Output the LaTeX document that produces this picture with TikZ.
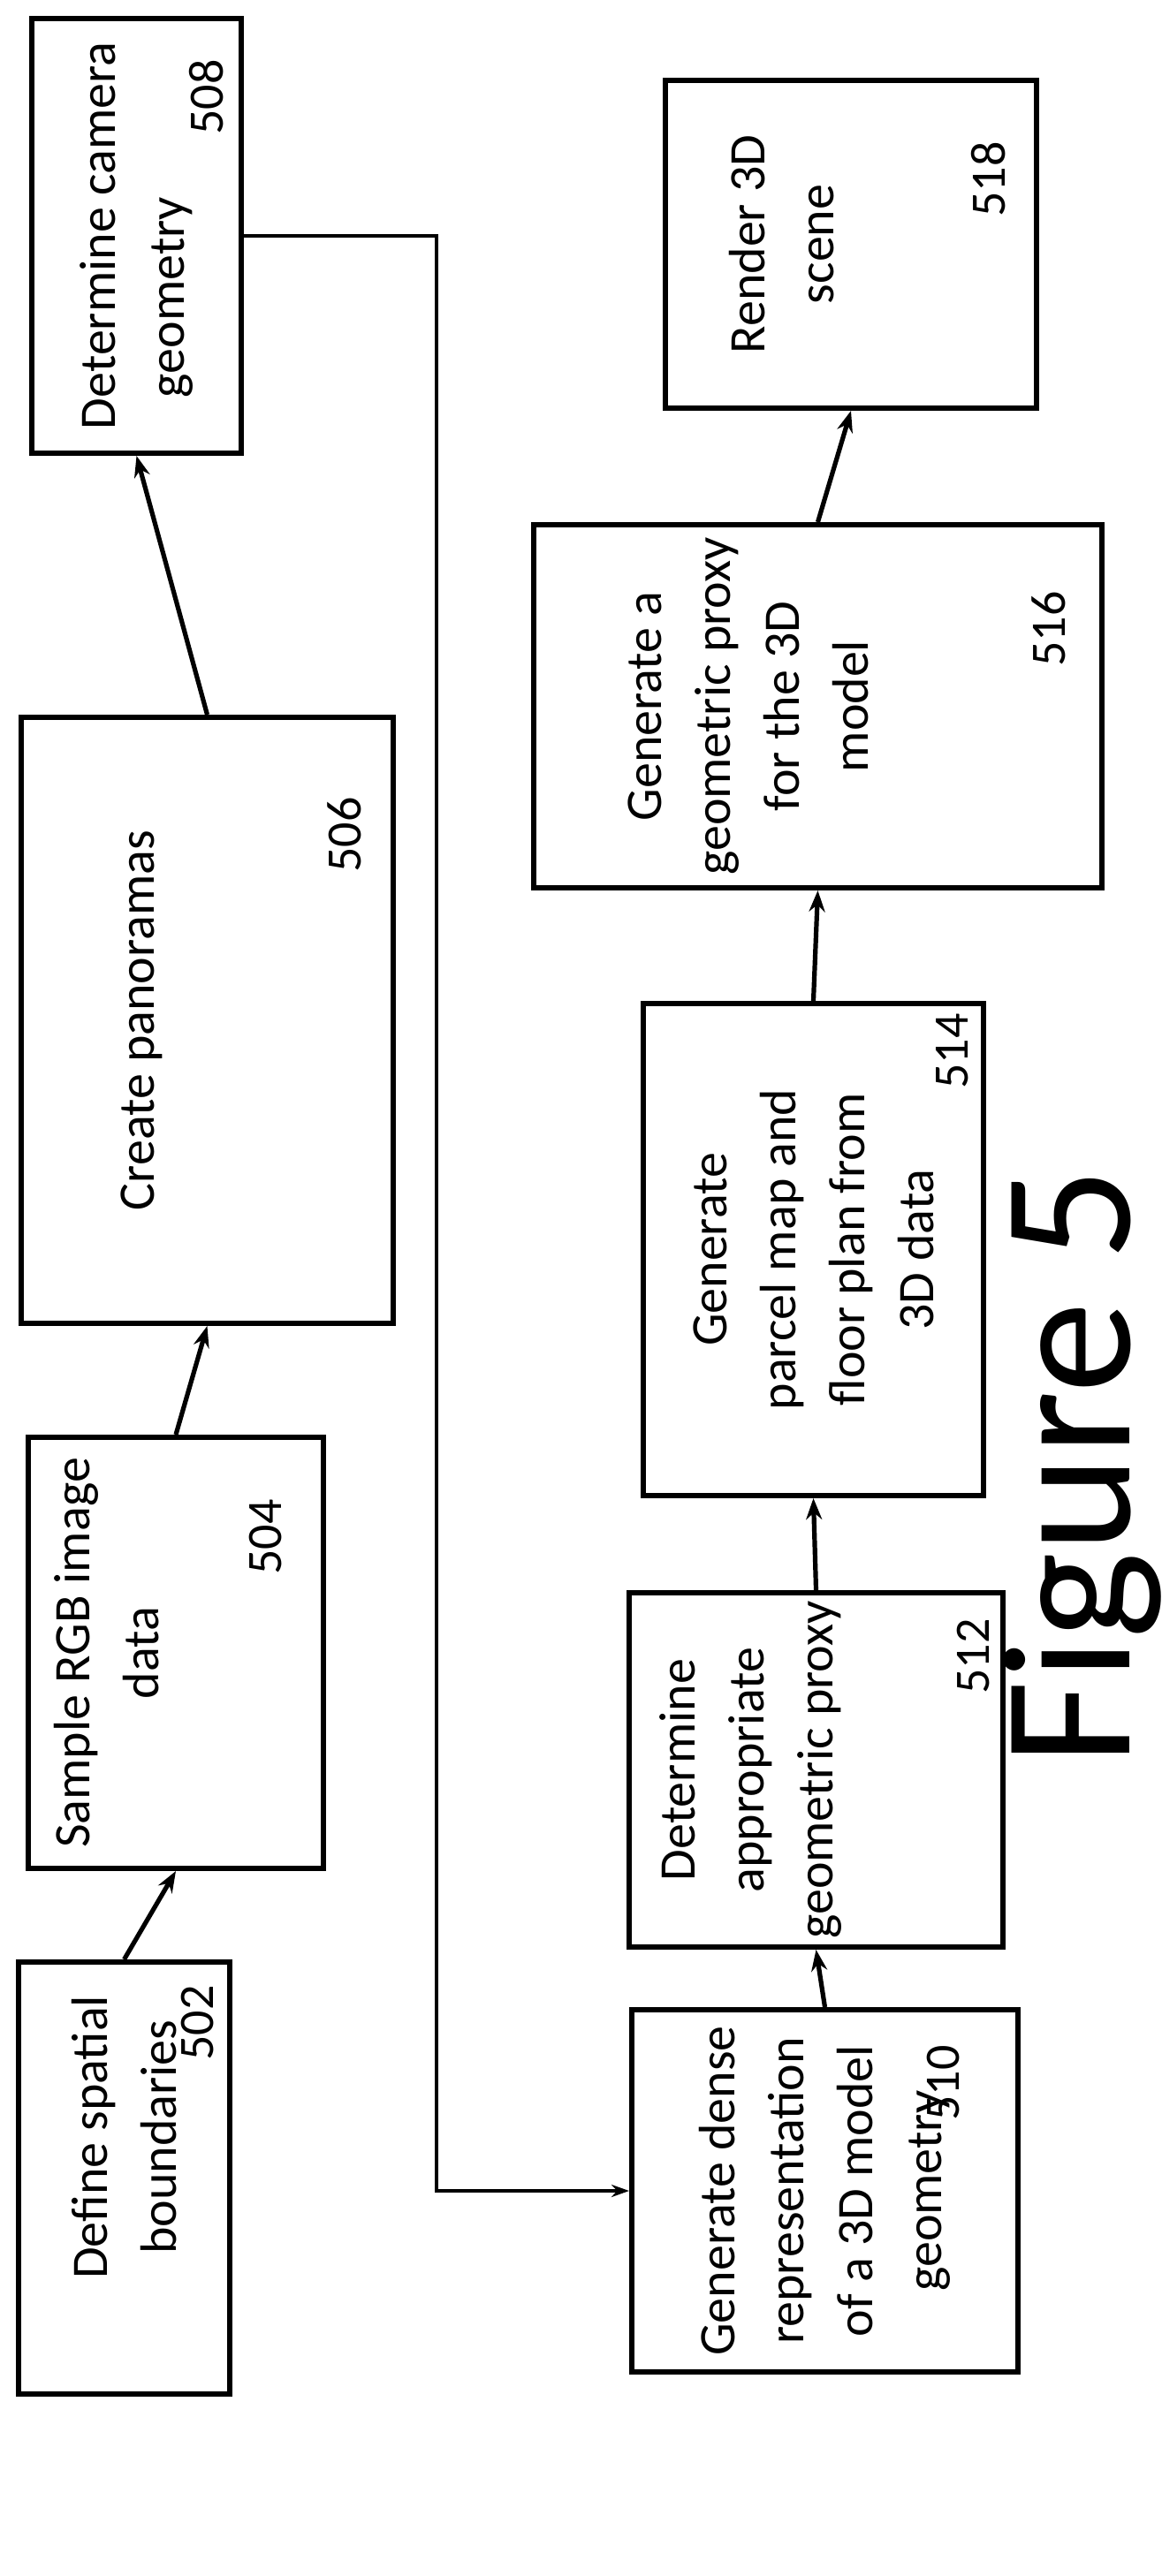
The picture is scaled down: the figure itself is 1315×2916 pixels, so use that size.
\documentclass[tikz,border=0pt]{standalone}
\usepackage{fontspec}
\setmainfont{Carlito}
\usetikzlibrary{arrows.meta}

\begin{document}
\begin{tikzpicture}[x=0.5pt, y=-0.5pt,
    box/.style={draw, line width=3pt, rotate=90, inner sep=0pt, align=center,
                font=\fontsize{29}{39}\selectfont},
    num/.style={rotate=90, inner sep=0pt, font=\fontsize{28}{32}\selectfont},
    flow/.style={-{Stealth[length=12pt,width=9pt]}, line width=2.6pt}]
    \useasboundingbox (0,0) rectangle (1315,2916);

    % Top row
    \node [box, minimum width=246pt, minimum height=118.5pt] (b508) at (154.5,267) {Determine camera\\geometry\phantom{mmm}};
    \node [box, minimum width=343pt, minimum height=210.5pt] (b506) at (234.5,1155) {Create panoramas\\[40pt]};
    \node [box, minimum width=244pt, minimum height=167pt] (b504) at (199,1871) {Sample RGB image\\data\\[40pt]};
    \node [box, minimum width=244.5pt, minimum height=119.5pt] (b502) at (140.5,2465.5) {\phantom{mm}Define spatial\\\phantom{mm}boundaries};

    % Bottom row
    \node [box, minimum width=205pt, minimum height=218.5pt] (b510) at (933.5,2480) {Generate dense\\representation\\of a 3D model\\geometry};
    \node [box, minimum width=200.5pt, minimum height=211.5pt] (b512) at (923.5,2003.5) {Determine\\appropriate\\geometric proxy\\[40pt]};
    \node [box, minimum width=278.5pt, minimum height=192.5pt] (b514) at (920.5,1414.5) {Generate\\parcel map and\\floor plan from\\3D data};
    \node [box, minimum width=205.5pt, minimum height=321.5pt] (b516) at (925.5,799.5) {Generate a\\geometric proxy\\for the 3D\\model\\[40pt]};
    \node [box, minimum width=185.5pt, minimum height=210pt] (b518) at (963,276.5) {Render 3D\\scene\\[40pt]};

    % Reference numerals
    \node [num] (n508) at (234,110) {508};
    \node [num] (n506) at (390,945) {506};
    \node [num] (n504) at (301,1740) {504};
    \node [num] (n502) at (224,2290) {502};
    \node [num] (n510) at (1068,2358) {510};
    \node [num] (n512) at (1102,1875) {512};
    \node [num] (n514) at (1078,1190) {514};
    \node [num] (n516) at (1187,712) {516};
    \node [num] (n518) at (1119,203) {518};

    % Arrows
    \draw [flow] (b502.east) -- (b504.west);
    \draw [flow] (b504.east) -- (b506.west);
    \draw [flow] (b506.east) -- (b508.west);
    \coordinate (turn) at (494,267);
    \draw [flow, line width=1.8pt, -{Stealth[length=10pt,width=7pt]}] (b508.south) -- (turn) |- (b510.north);
    \draw [flow] (b510.east) -- (b512.west);
    \draw [flow] (b512.east) -- (b514.west);
    \draw [flow] (b514.east) -- (b516.west);
    \draw [flow] (b516.east) -- (b518.west);

    % Caption
    \node [rotate=90, font=\fontsize{104}{104}\selectfont] (fig) at (1225,1660) {Figure 5};
\end{tikzpicture}
\end{document}
